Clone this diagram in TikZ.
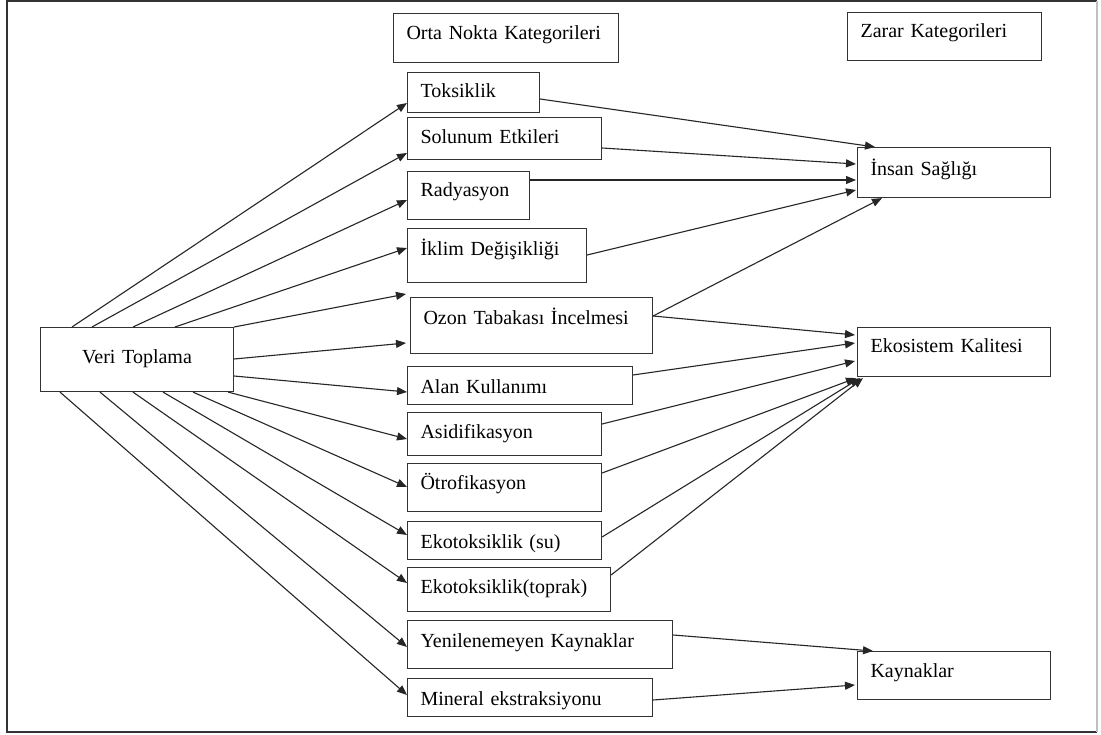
\documentclass[tikz,border=0pt]{standalone}
\usepackage{fontspec}
\setmainfont{Liberation Serif}
\usetikzlibrary{arrows.meta,calc}
\begin{document}
\begin{tikzpicture}[x=1pt,y=-1pt,
  box/.style={draw=black!80, line width=1.1pt, inner xsep=13pt, inner ysep=0pt,
    anchor=north west, align=left, font=\fontsize{20}{24}\selectfont},
  conn/.style={draw=black!85, line width=1.1pt, -{Triangle[length=10pt,width=8pt]}}]
\useasboundingbox (0,0) rectangle (1101,735);
\fill[white] (0,0) rectangle (1101,735);
% frame
\draw[black!80, line width=1.5pt] (1097,1) -- (7,1) -- (7,732) -- (1097,732);
\draw[black!25, line width=1.2pt] (1097,1) -- (1097,732);

% header boxes
\node[box, text width=199pt, text height=26.3pt, text depth=22.7pt] (orta) at (393,13) {Orta Nokta Kategorileri};
\node[box, text width=168pt, text height=24.7pt, text depth=23.3pt] (zarar) at (847,12) {Zarar Kategorileri};

% source
\node[box, align=center, text width=167pt, text height=36.3pt, text depth=27.7pt] (veri) at (40,327) {Veri Toplama};

% midpoint boxes
\node[box, text width=106pt, text height=24.7pt, text depth=15.3pt] (tok) at (407,72) {Toksiklik};
\node[box, text width=168pt, text height=25.7pt, text depth=16.3pt] (sol) at (407,117) {Solunum Etkileri};
\node[box, text width=96pt, text height=25pt, text depth=23pt] (rad) at (407,171) {Radyasyon};
\node[box, text width=153pt, text height=27pt, text depth=27pt] (ikl) at (407,228) {İklim Değişikliği};
\node[box, text width=216pt, text height=27pt, text depth=29pt] (ozon) at (410,297) {Ozon Tabakası İncelmesi};
\node[box, text width=199pt, text height=26.7pt, text depth=11.3pt] (alan) at (407,366) {Alan Kullanımı};
\node[box, text width=168pt, text height=25.7pt, text depth=17.3pt] (asid) at (407,412) {Asidifikasyon};
\node[box, text width=168pt, text height=26.3pt, text depth=21.7pt] (otro) at (407,463) {Ötrofikasyon};
\node[box, text width=168pt, text height=26.7pt, text depth=11.3pt] (ekosu) at (407,521) {Ekotoksiklik (su)};
\node[box, text width=177pt, text height=26.3pt, text depth=17.7pt] (ekotop) at (407,567) {Ekotoksiklik(toprak)};
\node[box, text width=239pt, text height=26.7pt, text depth=21.3pt] (yenil) at (407,620) {Yenilenemeyen Kaynaklar};
\node[box, text width=219pt, text height=27pt, text depth=11pt] (mineral) at (407,678) {Mineral ekstraksiyonu};

% damage boxes
\node[box, text width=167pt, text height=28pt, text depth=22pt] (insan) at (857,147) {İnsan Sağlığı};
\node[box, text width=167pt, text height=25.3pt, text depth=23.7pt] (eko) at (857,327) {Ekosistem Kalitesi};
\node[box, text width=167pt, text height=26.3pt, text depth=21.7pt] (kay) at (857,651) {Kaynaklar};

% Veri Toplama -> midpoints
\draw[conn] ($(veri.north west)+(32,0)$) -- ($(tok.north west)+(0,31)$);
\draw[conn] ($(veri.north west)+(52,0)$) -- ($(sol.north west)+(0,36)$);
\draw[conn] ($(veri.north west)+(93,0)$) -- ($(rad.north west)+(0,29)$);
\draw[conn] ($(veri.north west)+(135,0)$) -- ($(ikl.north west)+(0,20)$);
\draw[conn] (veri.north east) -- ($(ozon.north west)+(-4,-3)$);
\draw[conn] ($(veri.north east)+(0,32)$) -- ($(ozon.north west)+(-4,46)$);
\draw[conn] ($(veri.north east)+(0,49)$) -- ($(alan.north west)+(0,26)$);
\draw[conn] ($(veri.south east)+(-6,0)$) -- ($(asid.north west)+(0,27)$);
\draw[conn] ($(veri.south west)+(153,0)$) -- ($(otro.north west)+(0,24)$);
\draw[conn] ($(veri.south west)+(123,0)$) -- ($(ekosu.north west)+(0,14)$);
\draw[conn] ($(veri.south west)+(93,0)$) -- ($(ekotop.north west)+(0,16)$);
\draw[conn] ($(veri.south west)+(60,0)$) -- ($(yenil.north west)+(0,27)$);
\draw[conn] ($(veri.south west)+(20,0)$) -- ($(mineral.north west)+(0,17)$);

% midpoints -> damage
\draw[conn] ($(tok.north east)+(0,27)$) -- ($(insan.north west)+(18,0)$);
\draw[conn] ($(sol.north east)+(0,31)$) -- ($(insan.north west)+(-1,17)$);
\draw[conn] ($(rad.north east)+(0,9)$) -- ($(insan.north west)+(-1,33)$);
\draw[conn] ($(ikl.north east)+(0,27)$) -- ($(insan.north west)+(-1,43)$);
\draw[conn] ($(ozon.north east)+(0,19)$) -- ($(insan.south west)+(25,0)$);
\draw[conn] ($(ozon.north east)+(0,19)$) -- ($(eko.north west)+(-2,8)$);
\draw[conn] ($(alan.north east)+(0,9)$) -- ($(eko.north west)+(-2,16)$);
\draw[conn] ($(asid.north east)+(0,12)$) -- ($(eko.north west)+(-2,34)$);
\draw[conn] ($(otro.north east)+(0,10)$) -- ($(eko.south west)+(-1,1)$);
\draw[conn] ($(ekosu.north east)+(0,16)$) -- ($(eko.south west)+(3,1)$);
\draw[conn] ($(ekotop.north east)+(0,8)$) -- ($(eko.south west)+(6,1)$);
\draw[conn] ($(yenil.north east)+(0,15)$) -- ($(kay.north west)+(16,0)$);
\draw[conn] ($(mineral.north east)+(0,22)$) -- ($(kay.north west)+(-2,34)$);
\end{tikzpicture}
\end{document}
